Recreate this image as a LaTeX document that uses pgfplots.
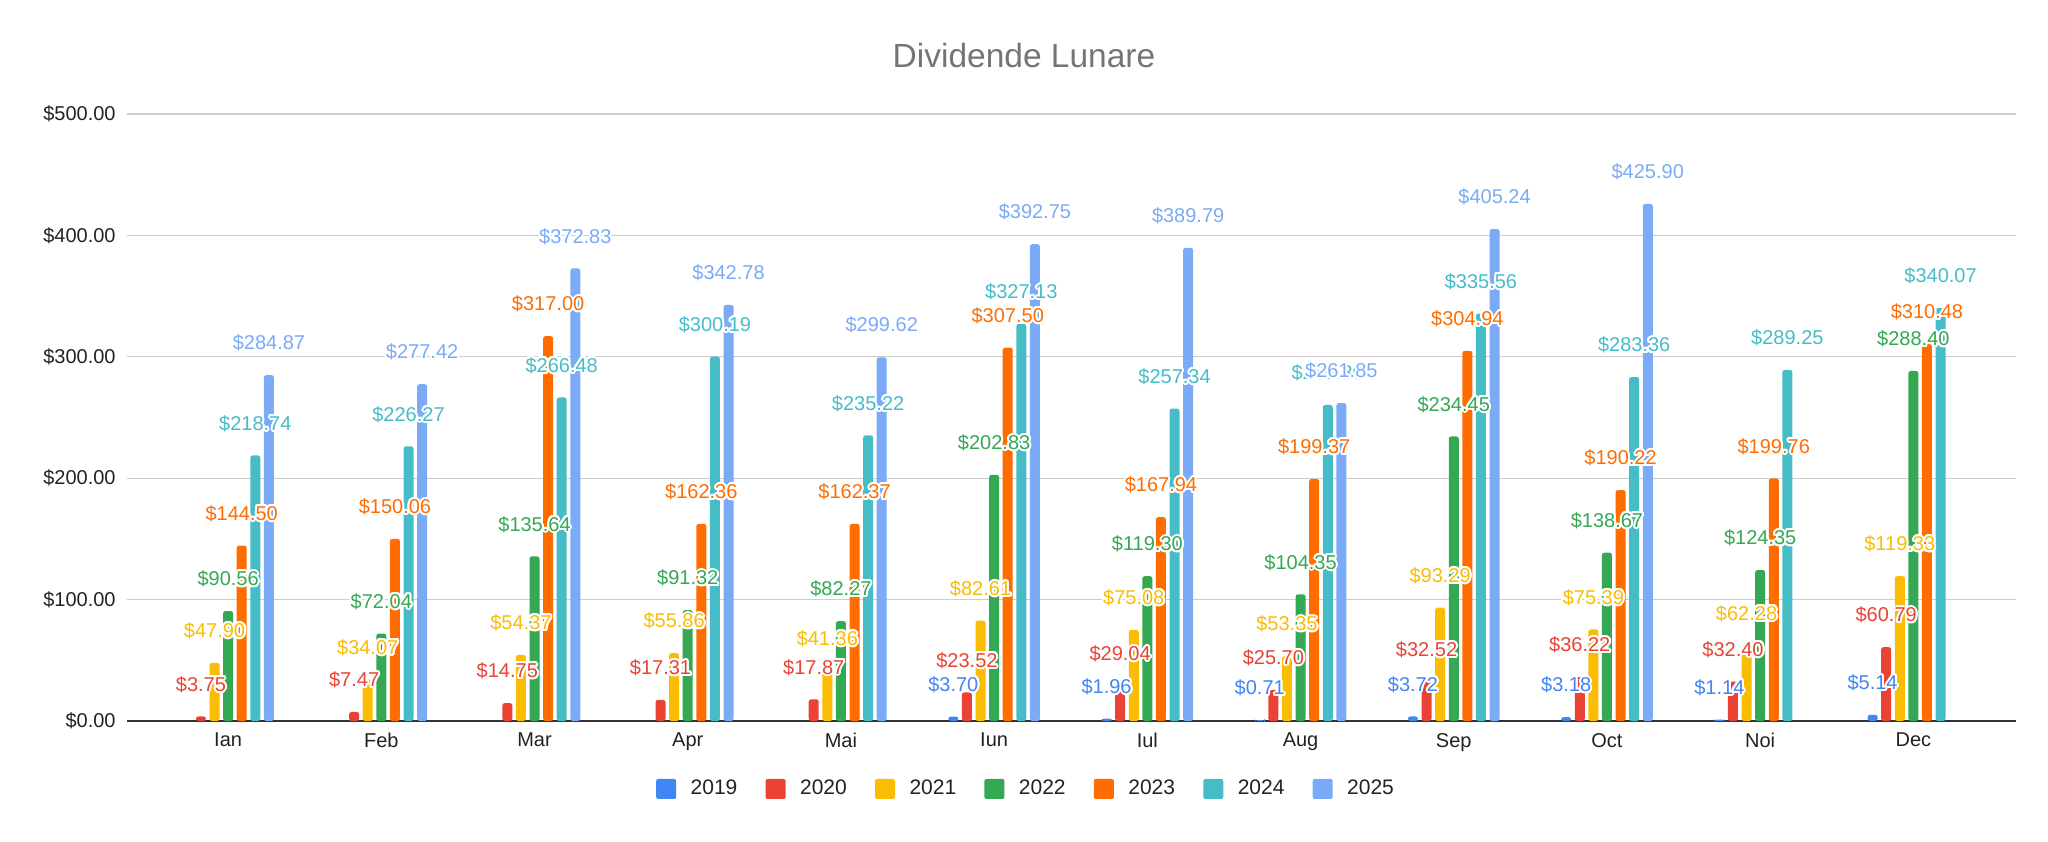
\documentclass[border=0pt]{standalone}
\usepackage{pgfplots}
\pgfplotsset{compat=1.18}
\usepackage{pgfplotstable}
\usepackage{fontspec}
\setmainfont{Liberation Sans}
\usepackage[copies]{contour}
\contourlength{1pt}
\definecolor{c19}{HTML}{4285F4}
\definecolor{c20}{HTML}{EA4335}
\definecolor{c21}{HTML}{FBBC04}
\definecolor{c22}{HTML}{34A853}
\definecolor{c23}{HTML}{FF6D01}
\definecolor{c24}{HTML}{46BDC6}
\definecolor{c25}{HTML}{7BAAF7}
\definecolor{titlegray}{HTML}{757575}
\definecolor{txt}{HTML}{222222}
\definecolor{gridc}{HTML}{CCCCCC}
\definecolor{axisc}{HTML}{333333}

\pgfplotstableread{
x   y19  y20   y21    y22    y23    y24    y25
0   nan  3.75  47.90  90.56  144.50 218.74 284.87
1   nan  7.47  34.07  72.04  150.06 226.27 277.42
2   nan  14.75 54.37  135.64 317.00 266.48 372.83
3   nan  17.31 55.86  91.32  162.36 300.19 342.78
4   nan  17.87 41.36  82.27  162.37 235.22 299.62
5   3.70 23.52 82.61  202.83 307.50 327.13 392.75
6   1.96 29.04 75.08  119.30 167.94 257.34 389.79
7   0.71 25.70 53.35  104.35 199.37 260.30 261.85
8   3.72 32.52 93.29  234.45 304.94 335.56 405.24
9   3.18 36.22 75.39  138.67 190.22 283.36 425.90
10  1.14 32.40 62.28  124.35 199.76 289.25 nan
11  5.14 60.79 119.33 288.40 310.48 340.07 nan
}\data

\pgfplotsset{
  lbl/.style={draw=none, fill=none, forget plot, nodes near coords,
    point meta=y,
    nodes near coords={\contour{white}{\$\pgfmathprintnumber[fixed,fixed zerofill,precision=2,assume math mode=true]{\pgfplotspointmeta}}},
    every node near coord/.append style={text=#1, anchor=center, yshift=15.5pt, inner sep=0pt, font=\fontsize{10}{12}\selectfont}},
  bar/.style={fill=#1, draw=none, rounded corners=1.2pt},
}

\begin{document}
\begin{tikzpicture}
\useasboundingbox (0pt,0pt) rectangle (1024pt,420.5pt);
\node[font=\fontsize{16.75}{20}\selectfont, text=titlegray] at (512pt,392.5pt) {Dividende Lunare};
\begin{axis}[
  at={(63.5pt,60pt)}, anchor=south west, scale only axis,
  width=944.5pt, height=303.5pt,
  ymin=0, ymax=500, xmin=-0.66, xmax=11.67,
  ybar, bar width=5pt,
  legend image code/.code={\fill[#1, rounded corners=1pt] (0pt,-5pt) rectangle (10pt,5pt);},
  axis x line*=bottom, axis y line*=left,
  y axis line style={draw=none},
  x axis line style={draw=axisc, line width=1pt},
  major tick length=0pt,
  ymajorgrids, grid style={draw=gridc, line width=0.6pt},
  ytick={0,100,200,300,400,500},
  yticklabels={\$0.00,\$100.00,\$200.00,\$300.00,\$400.00,\$500.00},
  xtick={0,...,11},
  xticklabels={Ian,Feb,Mar,Apr,Mai,Iun,Iul,Aug,Sep,Oct,Noi,Dec},
  ticklabel style={font=\fontsize{10}{12}\selectfont, text=txt, inner sep=0pt},
  xticklabel style={anchor=north, yshift=-5.9pt},
  yticklabel style={anchor=east, xshift=-5.5pt},
  legend columns=7,
  legend style={at={(0.4754,-0.112)}, anchor=center, draw=none, fill=none,
    font=\fontsize{10.5}{12}\selectfont, text=txt,
    nodes={inner sep=0pt},
    /tikz/every odd column/.append style={column sep=7.25pt},
    /tikz/every even column/.append style={column sep=14.1pt}},
]
\addplot[bar=c19, bar shift=-20.4pt] table[x=x,y=y19]{\data};
\addplot[bar=c20, bar shift=-13.6pt] table[x=x,y=y20]{\data};
\addplot[bar=c21, bar shift=-6.8pt] table[x=x,y=y21]{\data};
\addplot[bar=c22, bar shift=0pt] table[x=x,y=y22]{\data};
\addplot[bar=c23, bar shift=6.8pt] table[x=x,y=y23]{\data};
\addplot[bar=c24, bar shift=13.6pt] table[x=x,y=y24]{\data};
\addplot[bar=c25, bar shift=20.4pt] table[x=x,y=y25]{\data};
\legend{2019,2020,2021,2022,2023,2024,2025}
\addplot[lbl=c19, bar shift=-20.4pt] table[x=x,y=y19]{\data};
\addplot[lbl=c20, bar shift=-13.6pt] table[x=x,y=y20]{\data};
\addplot[lbl=c21, bar shift=-6.8pt] table[x=x,y=y21]{\data};
\addplot[lbl=c22, bar shift=0pt] table[x=x,y=y22]{\data};
\addplot[lbl=c23, bar shift=6.8pt] table[x=x,y=y23]{\data};
\addplot[lbl=c24, bar shift=13.6pt] table[x=x,y=y24]{\data};
\addplot[lbl=c25, bar shift=20.4pt] table[x=x,y=y25]{\data};
\end{axis}
\end{tikzpicture}
\end{document}
